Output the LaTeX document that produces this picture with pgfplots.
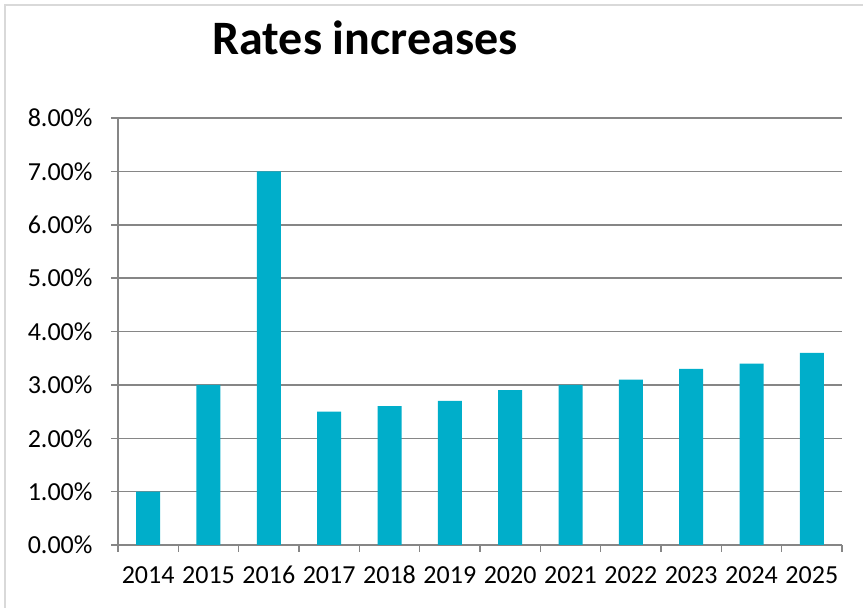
\documentclass[border=0pt]{standalone}
\usepackage{pgfplots}
\pgfplotsset{compat=1.18}
\usepackage{fontspec}
\setmainfont{Carlito}
\definecolor{barcol}{RGB}{0,174,202}
\definecolor{gridgray}{RGB}{134,134,134}
\definecolor{bordergray}{RGB}{217,217,217}
\begin{document}
\begin{tikzpicture}[x=1pt,y=1pt]
\useasboundingbox (0,0) rectangle (863,608);
\draw[bordergray, line width=1.5pt] (5,-10) -- (5,603) -- (880,603);
\node[anchor=base, font=\fontsize{48}{56}\selectfont\bfseries] at (365,553) {Rates increases};
\begin{axis}[
  at={(118pt,63pt)}, anchor=south west,
  scale only axis, width=724pt, height=427pt,
  xmin=-0.5, xmax=11.5, ymin=0, ymax=8,
  axis x line*=bottom, axis y line*=left,
  axis line style={-, draw=gridgray, line width=1.5pt},
  xtick={-0.5,0.5,...,11.5}, xticklabels={},
  extra x ticks={0,...,11},
  extra x tick labels={2014,2015,2016,2017,2018,2019,2020,2021,2022,2023,2024,2025},
  extra x tick style={major tick length=0pt, grid=none},
  ytick={0,...,8},
  yticklabel={\pgfmathprintnumber[fixed,fixed zerofill,precision=2]{\tick}\%},
  /pgf/number format/assume math mode=true,
  tick align=outside, major tick length=7pt,
  tick style={draw=gridgray, line width=1.5pt},
  ymajorgrids, grid style={draw=gridgray, line width=1.5pt},
  tick label style={font=\fontsize{26}{30}\selectfont},
  xticklabel style={yshift=-18pt, text height=17pt, text depth=0pt},
  yticklabel style={xshift=-15pt},
  enlargelimits=false,
  clip=false,
]
\addplot[ybar, bar width=24pt, fill=barcol, draw=none] coordinates {
  (0,1.0) (1,3.0) (2,7.0) (3,2.5) (4,2.6) (5,2.7) (6,2.9) (7,3.0) (8,3.1) (9,3.3) (10,3.4) (11,3.6)
};
\end{axis}
\end{tikzpicture}
\end{document}
